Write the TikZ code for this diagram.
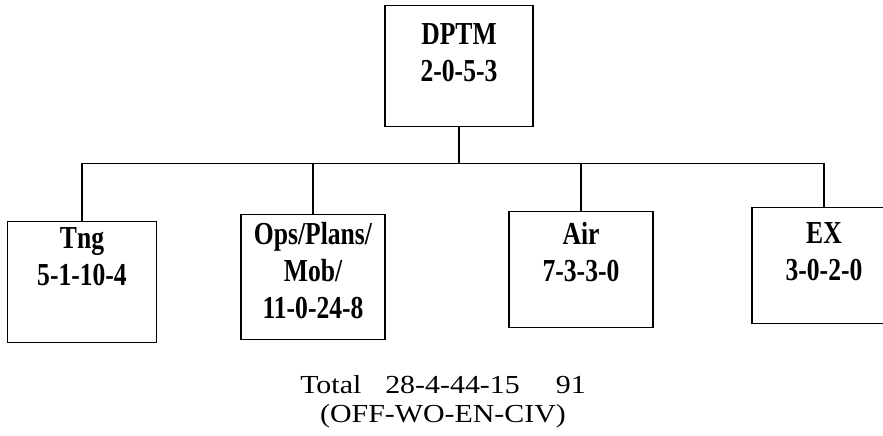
\documentclass[tikz,border=0pt]{standalone}
\usepackage{fontspec}
\setmainfont{Liberation Serif}
\newfontfamily\unitfont[FakeStretch=0.8]{Liberation Serif}
\newfontfamily\totalfont[FakeStretch=1.15]{Liberation Serif}
\usepackage{tikz}
\usetikzlibrary{positioning, calc}

\begin{document}
\begin{tikzpicture}[
    x=1bp, y=-1bp,
    unit/.style={rectangle, draw, line width=1.4bp, inner sep=0pt, minimum width=#1},
    unit/.default=144bp,
    unitname/.style={align=center, inner sep=0pt, font=\unitfont\bfseries\fontsize{32bp}{37bp}\selectfont},
    link/.style={line width=1.4bp}
]
\useasboundingbox (0,0) rectangle (883,436);

\node[unit=148bp, minimum height=121bp, anchor=north] (dptm) at (459,5) {};
\node[unit=149bp, minimum height=121bp, anchor=north] (tng) at (82,221) {};
\node[unit, minimum height=125bp, anchor=north] (ops) at (313,214) {};
\node[unit, minimum height=116bp, anchor=north] (air) at (581,211) {};
\node[unit, minimum height=116bp, anchor=north] (ex) at (824,207) {};

\node[unitname, below=18bp of dptm.north] (dptmname) {DPTM\\2-0-5-3};
\node[unitname, below=6bp of tng.north] (tngname) {Tng\\5-1-10-4};
\node[unitname, below=8bp of ops.north] (opsname) {Ops/Plans/\\Mob/\\11-0-24-8};
\node[unitname, below=11bp of air.north] (airname) {Air\\7-3-3-0};
\node[unitname, below=15bp of ex.north] (exname) {EX\\3-0-2-0};

\path (dptm.south) ++(0,36) coordinate (bus);
\draw[link] (dptm.south) -- (bus);
\draw[link] (tng.north) |- (bus) -| (ex.north);
\draw[link] (ops.north) -- (ops.north |- bus);
\draw[link] (air.north) -- (air.north |- bus);

\node[align=center, inner sep=0pt, anchor=north, font=\totalfont\fontsize{26bp}{29bp}\selectfont] (total) at (443,375)
  {Total\hspace{24bp}28-4-44-15\hspace{36bp}91\\(OFF-WO-EN-CIV)};

\end{tikzpicture}
\end{document}
